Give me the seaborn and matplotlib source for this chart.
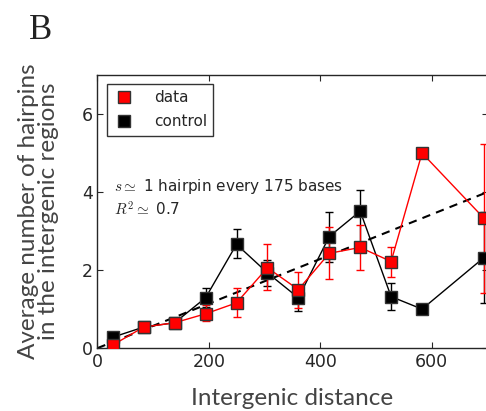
import numpy as np
import pandas as pd
import matplotlib
matplotlib.use("Agg")
import matplotlib.pyplot as plt
import seaborn as sns
from matplotlib.lines import Line2D

# intergenic distance bins (centres)
distance = [27.5, 83, 138.5, 194, 249.5, 305, 360.5, 416, 471.5, 527, 582.5, 693.5]

# data (red)
data_mean = [0.08, 0.54, 0.65, 0.88, 1.16, 2.06, 1.50, 2.43, 2.58, 2.22, 5.00, 3.33]
data_low = [0.03, 0.49, 0.60, 0.70, 0.80, 1.50, 1.03, 1.76, 1.99, 1.83, 5.00, 1.42]
data_high = [0.13, 0.59, 0.70, 1.10, 1.55, 2.66, 1.96, 3.10, 3.15, 2.60, 5.00, 5.24]

# control (black)
ctrl_mean = [0.28, 0.54, 0.65, 1.29, 2.66, 1.93, 1.29, 2.86, 3.51, 1.32, 1.00, 2.32]
ctrl_low = [0.23, 0.49, 0.60, 1.05, 2.30, 1.60, 0.95, 2.20, 2.53, 0.98, 1.00, 1.16]
ctrl_high = [0.33, 0.59, 0.70, 1.55, 3.05, 2.25, 1.62, 3.50, 4.05, 1.68, 1.00, 3.48]

# fit: 1 hairpin every 175 bases
fit_x = [0, 700]
slope = 1 / 175.0

sns.set_style("ticks")
plt.rcParams['font.family'] = ['DejaVu Sans']
plt.rcParams['mathtext.fontset'] = 'cm'
plt.rcParams['xtick.direction'] = 'in'
plt.rcParams['ytick.direction'] = 'in'
plt.rcParams['xtick.top'] = True
plt.rcParams['ytick.right'] = True

fig = plt.figure(figsize=(4.86, 4.11), dpi=100)
ax = fig.add_axes([0.2006, 0.153, 0.8025, 0.6645])

df = pd.DataFrame({"distance": distance, "data": data_mean, "control": ctrl_mean})

# dashed fit line
ax.plot(fit_x, [v * slope for v in fit_x], ls='--', color='black', lw=1.5, dashes=(4, 3), zorder=2)

for col, color, low, high in [("control", "black", ctrl_low, ctrl_high),
                              ("data", "red", data_low, data_high)]:
    mean = np.array(df[col])
    yerr = np.vstack([mean - np.array(low), np.array(high) - mean])
    ax.errorbar(df["distance"], mean, yerr=yerr, fmt='none', ecolor=color,
                elinewidth=1, capsize=3, capthick=1, zorder=3)
    sns.lineplot(data=df, x="distance", y=col, ax=ax, color=color, lw=1,
                 marker='s', markersize=9, markeredgecolor='#333333',
                 markeredgewidth=1, label=col, zorder=4)

ax.set_xlim(0, 700)
ax.set_ylim(0, 7)
ax.set_xticks([0, 200, 400, 600])
ax.set_yticks([0, 2, 4, 6])
ax.tick_params(labelsize=12.5, length=4, width=0.8)
for s in ax.spines.values():
    s.set_linewidth(1)

ax.set_xlabel("Intergenic distance", fontsize=17.5, color='#444444', family='Lato', labelpad=12)
ax.set_ylabel("Average number of hairpins\nin the intergenic regions", fontsize=17.5,
              color='#444444', family='Lato', labelpad=16, linespacing=0.95)

ax.text(30, 4.13, r"$s\simeq$ 1 hairpin every 175 bases", fontsize=11, va='center')
ax.text(30, 3.55, r"$R^2\simeq$ 0.7", fontsize=11, va='center')

leg_handles = [Line2D([], [], marker='s', ls='none', color='red', markeredgecolor='#333333', markersize=9),
               Line2D([], [], marker='s', ls='none', color='black', markeredgecolor='#333333', markersize=9)]
leg = ax.legend(leg_handles, ["data", "control"], loc='upper left', fontsize=11,
                frameon=True, fancybox=False, edgecolor='black', handlelength=1.5,
                borderaxespad=0.6, handletextpad=1.2, labelspacing=0.6)
leg.get_frame().set_linewidth(1)

fig.text(0.06, 0.905, "B", fontsize=25, family='Liberation Serif', color='#222222')

fig.savefig("out.png", dpi=100)
